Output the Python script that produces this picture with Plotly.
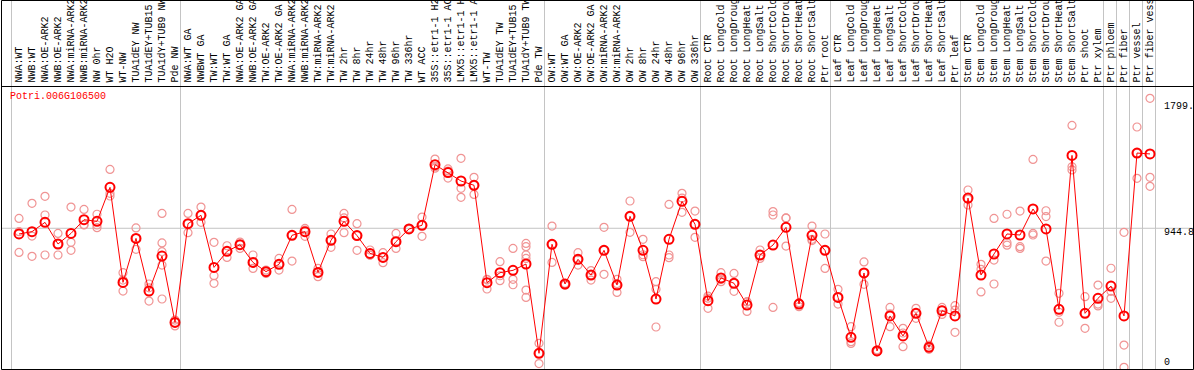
import plotly.graph_objects as go

# ---------------- data ----------------
gene_id = "Potri.006G106500"

categories = [
    "NWA:WT", "NWB:WT", "NWA:OE-ARK2", "NWB:OE-ARK2", "NWA:miRNA-ARK2", "NWB:miRNA-ARK2",
    "NW 0hr", "WT H2O", "WT-NW", "TUA1dEY NW", "TUA1dEY+TUB15", "TUA1dY+TUB9 NW", "Pde NW",
    "NWA:WT GA", "NWBWT GA", "TW:WT", "TW:WT GA", "NWA:OE-ARK2 GA", "NWB:OE-ARK2 GA",
    "TW:OE-ARK2", "TW:OE-ARK2 GA", "NWA:miRNA-ARK2", "NWB:miRNA-ARK2", "TW:miRNA-ARK2",
    "TW:miRNA-ARK2", "TW 2hr", "TW 8hr", "TW 24hr", "TW 48hr", "TW 96hr", "TW 336hr",
    "WT ACC", "35S::etr1-1 H2", "35S::etr1-1 AC", "LMX5::etr1-1 H", "LMX5::etr1-1 A",
    "WT-TW", "TUA1dEY TW", "TUA1dEY+TUB15", "TUA1dY+TUB9 TW", "Pde TW",
    "OW:WT", "OW:WT GA", "OW:OE-ARK2", "OW:OE-ARK2 GA", "OW:miRNA-ARK2", "OW:miRNA-ARK2",
    "OW 2hr", "OW 8hr", "OW 24hr", "OW 48hr", "OW 96hr", "OW 336hr",
    "Root CTR", "Root LongCold", "Root LongDroug", "Root LongHeat", "Root LongSalt",
    "Root ShortCold", "Root ShortDrou", "Root ShortHeat", "Root ShortSalt", "Ptr root",
    "Leaf CTR", "Leaf LongCold", "Leaf LongDroug", "Leaf LongHeat", "Leaf LongSalt",
    "Leaf ShortCold", "Leaf ShortDrou", "Leaf ShortHeat", "Leaf ShortSalt", "Ptr leaf",
    "Stem CTR", "Stem LongCold", "Stem LongDroug", "Stem LongHeat", "Stem LongSalt",
    "Stem ShortCold", "Stem ShortDrou", "Stem ShortHeat", "Stem ShortSalt", "Ptr shoot",
    "Ptr xylem", "Ptr phloem", "Ptr fiber", "Ptr vessel", "Ptr fiber vess",
]

group_sizes = [13, 28, 12, 10, 10, 11, 1, 1, 1, 1]

means = [906, 922, 985, 838, 910, 1003, 992, 1223, 577, 876,
         518, 756, 305, 976, 1033, 679, 788, 833, 713, 650,
         700, 897, 922, 645, 863, 992, 895, 774, 747, 854,
         940, 965, 1377, 1323, 1266, 1237, 575, 643, 659, 702,
         95, 836, 566, 734, 627, 795, 559, 1026, 795, 464,
         870, 1128, 972, 453, 607, 571, 423, 763, 831, 951,
         430, 897, 795, 475, 204, 641, 111, 349, 213, 367,
         136, 385, 349, 1150, 627, 770, 906, 899, 1076, 940,
         394, 1440, 367, 469, 552, 349, 1456, 1450]

replicates = [
    [1012, 922, 781], [1114, 892, 754], [1162, 1035, 763], [910, 838, 763],
    [1089, 849, 795], [1073, 970, 967], [1040, 967, 949], [1345, 1182, 1164],
    [643, 593, 518], [947, 876, 802], [566, 540, 450], [1046, 845, 786, 695, 464],
    [321, 305, 281], [1046, 976, 915], [1089, 1033, 985], [849, 623, 571],
    [826, 788, 747], [851, 833, 808], [763, 713, 672], [661, 650, 638],
    [740, 700, 661], [1073, 897, 722], [944, 933, 890], [672, 645, 616],
    [906, 863, 815], [1046, 1015, 915], [976, 895, 795], [797, 762, 763],
    [779, 747, 711], [910, 854, 808], [945, 937, 940], [1021, 965, 890],
    [1415, 1363, 1353], [1334, 1286, 1348], [1420, 1216, 1155], [1291, 1237, 1175],
    [598, 595, 532], [718, 622, 589], [808, 598, 561], [842, 820, 763, 740, 525, 475],
    [163, 95, 25], [960, 836, 713], [570, 566, 559], [779, 734, 695],
    [657, 627, 593], [951, 795, 632], [598, 569, 509], [1130, 1026, 917],
    [870, 765, 752], [582, 530, 274], [1107, 763, 745], [1182, 1150, 1053],
    [1062, 972, 883], [484, 470, 401], [643, 596, 582], [638, 571, 516],
    [446, 443, 380], [797, 763, 740], [1058, 1035, 407], [1015, 1014, 824],
    [439, 430, 412], [960, 870, 861], [906, 795, 672], [530, 475, 430],
    [276, 174, 162], [716, 641, 564], [118, 111, 106], [407, 363, 276],
    [265, 233, 140], [401, 367, 333], [151, 136, 122], [407, 389, 359],
    [419, 389, 238], [1205, 1143, 1103], [700, 666, 512], [1012, 729, 566],
    [1040, 847, 830], [1062, 820, 808], [1413, 910, 899], [1064, 1024, 722],
    [503, 374, 306], [1644, 1363, 1341], [480, 367, 265], [559, 430, 417],
    [673, 516, 469], [917, 151, 0], [1633, 1456, 1284], [1828, 1291, 1230],
]

axis_labels = ["1799.", "944.8", "0"]
axis_values = [1799, 944.8, 0]
grid_value = 944.8

# ---------------- layout helpers ----------------
W, H = 1194, 370
STEP = 13.0          # pixels per category
X0PIX = 19.0         # pixel of first category
ZEROPIX = 367.3      # pixel of value 0
PPU = 0.14715        # pixels per unit

def px(p):
    return p / W

def py(p):
    return 1 - p / H

FONT = "Liberation Mono, DejaVu Sans Mono, monospace"
FSIZE = 10
GRAY = "#c4c4c4"

fig = go.Figure()

rx, ry = [], []
for i, reps in enumerate(replicates):
    for v in reps:
        rx.append(i)
        ry.append(v)

fig.add_trace(go.Scatter(
    x=rx, y=ry, mode="markers",
    marker=dict(symbol="circle-open", size=8, color="#f09494", line=dict(width=1.2)),
    hoverinfo="skip", showlegend=False))

xs = list(range(len(categories)))
fig.add_trace(go.Scatter(
    x=xs, y=means, mode="lines+markers",
    line=dict(color="#ff0000", width=1),
    marker=dict(symbol="circle-open", size=9, color="#ff0000", line=dict(width=2)),
    showlegend=False))

shapes = []
# group separators
k = 0
bounds = [0]
for g in group_sizes:
    k += g
    bounds.append(k)
for b in bounds:
    xb = b - 7.5 / STEP
    shapes.append(dict(type="line", xref="x", yref="paper", x0=xb, x1=xb,
                       y0=py(369), y1=1, line=dict(color=GRAY, width=1), layer="below"))
# horizontal grid line
shapes.append(dict(type="line", xref="paper", yref="y", x0=px(1), x1=px(1193),
                   y0=grid_value, y1=grid_value, line=dict(color=GRAY, width=1), layer="below"))
# header separator
shapes.append(dict(type="line", xref="paper", yref="paper", x0=px(1), x1=px(1193.5),
                   y0=py(86.5), y1=py(86.5), line=dict(color="black", width=1)))
# frame
shapes.append(dict(type="rect", xref="paper", yref="paper", x0=px(1.5), x1=px(1193.5),
                   y0=py(369.5), y1=py(0.5), line=dict(color="black", width=1)))

annotations = []
for i, lab in enumerate(categories):
    annotations.append(dict(x=i, xref="x", y=py(84.5), yref="paper", text=lab,
                            textangle=-90, xanchor="center", yanchor="bottom",
                            showarrow=False, font=dict(family=FONT, size=FSIZE, color="black")))
annotations.append(dict(x=px(8), xref="paper", y=py(96.7), yref="paper", text=gene_id,
                        xanchor="left", yanchor="middle", showarrow=False,
                        font=dict(family=FONT, size=FSIZE, color="#ff0000")))
shifts = [-4, -4.7, 5]
for lab, val, s in zip(axis_labels, axis_values, shifts):
    annotations.append(dict(x=px(1162), xref="paper", y=val, yref="y", text=lab,
                            xanchor="left", yanchor="middle", yshift=s, showarrow=False,
                            font=dict(family=FONT, size=FSIZE, color="black")))

fig.update_layout(
    width=W, height=H,
    margin=dict(l=0, r=0, t=0, b=0, pad=0),
    paper_bgcolor="white", plot_bgcolor="white",
    xaxis=dict(range=[-X0PIX / STEP, (W - X0PIX) / STEP], visible=False, fixedrange=True),
    yaxis=dict(range=[(ZEROPIX - H) / PPU, ZEROPIX / PPU], visible=False, fixedrange=True),
    shapes=shapes, annotations=annotations,
)

fig.write_html("out.html", config={"displayModeBar": False},
               post_script="document.body.style.margin='0';document.body.style.overflow='hidden';")
